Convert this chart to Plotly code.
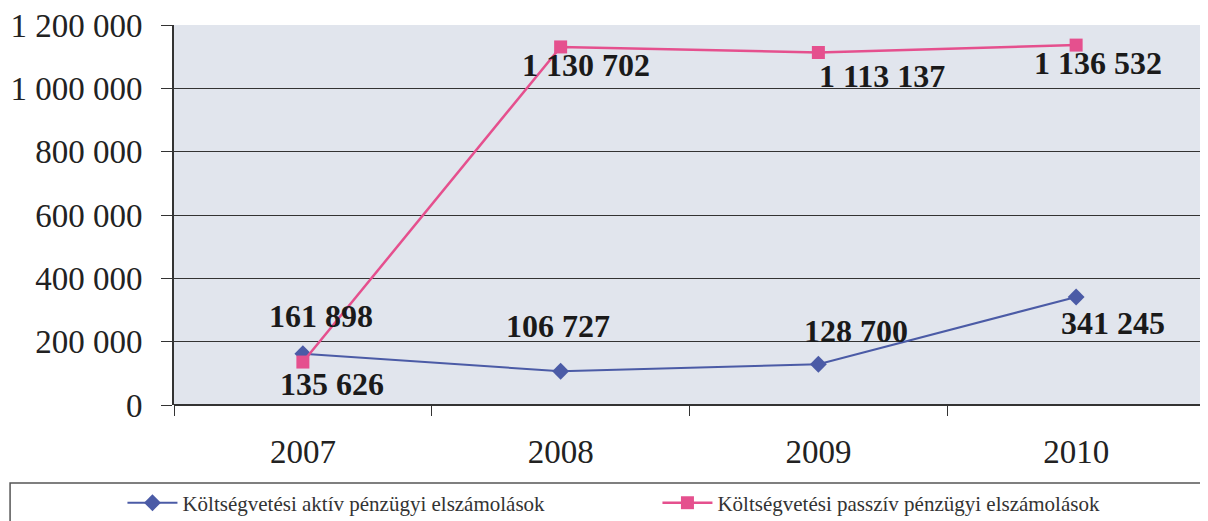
import plotly.graph_objects as go

years = ["2007", "2008", "2009", "2010"]
aktiv = [161898, 106727, 128700, 341245]
passziv = [135626, 1130702, 1113137, 1136532]
names = [
    "Költségvetési aktív pénzügyi elszámolások",
    "Költségvetési passzív pénzügyi elszámolások",
]

# label nudges (px) so the numbers sit where they do in the original
aktiv_shift = [(18, 38), (-3, 45), (38, 33), (37, -26)]
passziv_shift = [(29, -22), (25, -18), (64, -23), (22, -18)]

SERIF = "Liberation Serif, Times New Roman, serif"
BLUE = "#4b5ba6"
PINK = "#e5508e"


def fmt(v):
    return f"{v:,}".replace(",", " ")


fig = go.Figure()
fig.add_trace(
    go.Scatter(
        x=years, y=aktiv, name=names[0], mode="lines+markers",
        line=dict(color=BLUE, width=2),
        marker=dict(symbol="diamond", size=13, color=BLUE),
    )
)
fig.add_trace(
    go.Scatter(
        x=years, y=passziv, name=names[1], mode="lines+markers",
        line=dict(color=PINK, width=2.5),
        marker=dict(symbol="square", size=13, color=PINK),
    )
)

# annotations on a category axis: use the category index
for vals, shifts in ((aktiv, aktiv_shift), (passziv, passziv_shift)):
    for i, (v, (dx, dy)) in enumerate(zip(vals, shifts)):
        fig.add_annotation(
            x=i, y=v, text=f"<b>{fmt(v)}</b>", showarrow=False,
            xshift=dx, yshift=dy,
            font=dict(family=SERIF, size=32, color="#1a1a1a"),
        )

# legend frame
fig.add_shape(
    type="rect", xref="paper", yref="paper",
    x0=-0.159, x1=1.02, y0=-0.36, y1=-0.205,
    line=dict(color="#555", width=1.5), fillcolor="white", layer="below",
)

# page body has an 8px margin, so the figure is a bit smaller than the window
fig.update_layout(
    width=1200, height=513,
    margin=dict(l=166, r=3, t=17, b=116, autoexpand=False),
    plot_bgcolor="#e1e5ed", paper_bgcolor="white",
    separators=", ",
    font=dict(family=SERIF, color="#222"),
    showlegend=True,
    legend=dict(
        orientation="h", x=-0.05, xanchor="left", y=-0.258, yanchor="middle",
        font=dict(family=SERIF, size=21, color="#333"),
        itemwidth=50, entrywidth=470, bgcolor="rgba(0,0,0,0)",
    ),
)

fig.update_xaxes(
    type="category", categoryorder="array", categoryarray=years,
    range=[-0.5, len(years) - 0.5],
    tickson="boundaries", ticks="outside", ticklen=10, tickangle=0,
    ticklabelstandoff=24,
    tickcolor="#333", showgrid=False, showline=False,
    tickfont=dict(family=SERIF, size=33, color="#222"),
)
fig.update_yaxes(
    range=[0, 1200000], dtick=200000, tickformat=",d",
    ticks="outside", ticklen=11, tickcolor="#333", ticklabelstandoff=12,
    ticklabeloverflow="allow",
    showline=True, linecolor="#333", linewidth=2,
    gridcolor="#333", gridwidth=1.3, zeroline=True, zerolinecolor="#333",
    zerolinewidth=1.5,
    tickfont=dict(family=SERIF, size=33, color="#222"),
)

fig.write_html("out.html")
